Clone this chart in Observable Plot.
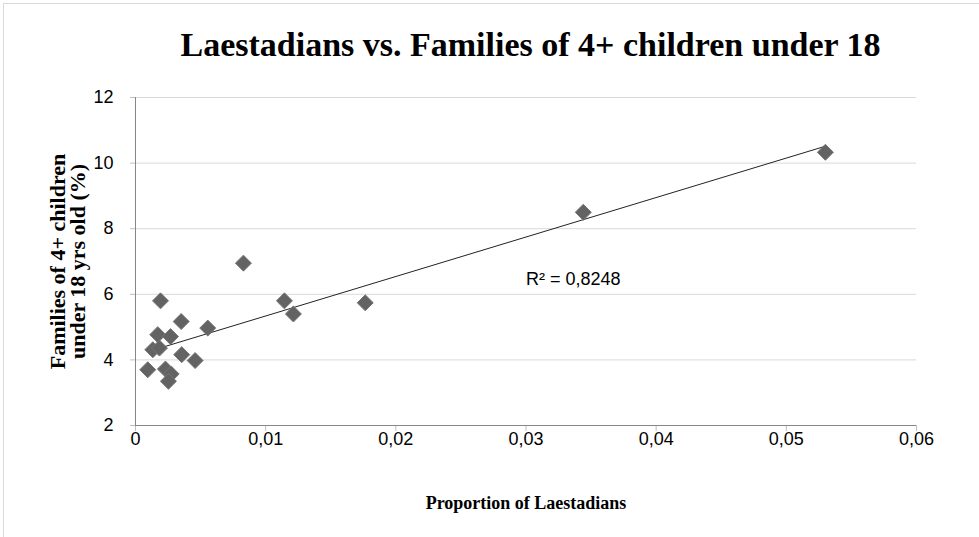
<!DOCTYPE html>
<html>
<head>
<meta charset="utf-8">
<script src="https://cdn.jsdelivr.net/npm/d3@7"></script>
<script src="https://cdn.jsdelivr.net/npm/@observablehq/plot@0.6"></script>
<style>
  html, body { margin: 0; padding: 0; background: #fff; }
  #wrap { position: relative; width: 979px; height: 537px; overflow: hidden; }
  #frame { position: absolute; left: 3px; top: 3px; width: 1000px; height: 600px; border-left: 1px solid #d9d9d9; border-top: 1px solid #d9d9d9; }
  #title { position: relative; height: 70px; box-sizing: border-box; padding-top: 28px; padding-left: 143px; width: 918px; text-align: center; white-space: nowrap;
           font-family: "Liberation Serif", serif; font-weight: bold; font-size: 34px; line-height: 34px; color: #000; }
  svg { display: block; }
</style>
</head>
<body>
<div id="wrap">
  <div id="frame"></div>
  <div id="title">Laestadians vs. Families of 4+ children under 18</div>
  <div id="chart"></div>
</div>
<script>
// Proportion of Laestadians (x) and families of 4+ children under 18 (%) (y)
const proportion = [0.0530, 0.0344, 0.01765, 0.01144, 0.01213, 0.00829,
  0.00192, 0.00351, 0.00555, 0.00171, 0.00269, 0.00133, 0.00184, 0.00355,
  0.00458, 0.00094, 0.00230, 0.00274, 0.00253];
const families = [10.33, 8.50, 5.74, 5.80, 5.40, 6.95,
  5.80, 5.17, 4.97, 4.77, 4.71, 4.31, 4.36, 4.16,
  3.98, 3.70, 3.72, 3.57, 3.35];
const xTicks = [0, 0.01, 0.02, 0.03, 0.04, 0.05, 0.06];
const yTicks = [2, 4, 6, 8, 10, 12];
const rSquaredLabel = ["R² = 0,8248"];
const rSquaredPos = {x: 0.0300, y: 6.47};
const xTitle = "Proportion of Laestadians";
const yTitle = "Families of 4+ children\nunder 18 yrs old (%)";

const data = proportion.map((p, i) => ({x: p, y: families[i]}));
const comma = d => String(d).replace(".", ",");

const chart = Plot.plot({
  width: 979,
  height: 467,
  marginTop: 27,
  marginBottom: 112,
  marginLeft: 135,
  marginRight: 63,
  style: {fontFamily: "'Liberation Sans', Arial, sans-serif", fontSize: "18px", color: "#000", background: "transparent", overflow: "visible"},
  x: {domain: [0, 0.06]},
  y: {domain: [2, 12]},
  marks: [
    Plot.gridY(yTicks, {stroke: "#d9d9d9", strokeOpacity: 1}),
    Plot.axisY(yTicks, {tickSize: 5, stroke: "#bfbfbf", tickPadding: 17, fontSize: 18, fill: "#000", label: null, tickFormat: comma}),
    Plot.axisX(xTicks, {tickSize: 6, stroke: "#bfbfbf", tickPadding: 1, fontSize: 18, fill: "#000", label: null, tickFormat: comma}),
    Plot.ruleX([0], {stroke: "#868686"}),
    Plot.ruleY([2], {stroke: "#868686"}),
    Plot.linearRegressionY(data, {x: "x", y: "y", ci: 0, stroke: "#222", strokeWidth: 1}),
    Plot.dot(data, {x: "x", y: "y", symbol: "diamond2", r: 7.2, fill: "#636363", stroke: "#747474", strokeWidth: 1}),
    Plot.text(rSquaredLabel, {x: () => rSquaredPos.x, y: () => rSquaredPos.y, text: d => d, textAnchor: "start", fontSize: 18, fill: "#000"}),
    Plot.text([xTitle], {frameAnchor: "bottom", dy: 83, text: d => d, fontFamily: "'Liberation Serif', serif", fontWeight: "bold", fontSize: 18, fill: "#000"}),
    Plot.text([yTitle], {frameAnchor: "left", dx: -67, rotate: -90, textAnchor: "middle", lineAnchor: "middle", text: d => d, lineHeight: 0.92, fontFamily: "'Liberation Serif', serif", fontWeight: "bold", fontSize: 22, fill: "#000"})
  ]
});
document.getElementById("chart").appendChild(chart);
</script>
</body>
</html>
